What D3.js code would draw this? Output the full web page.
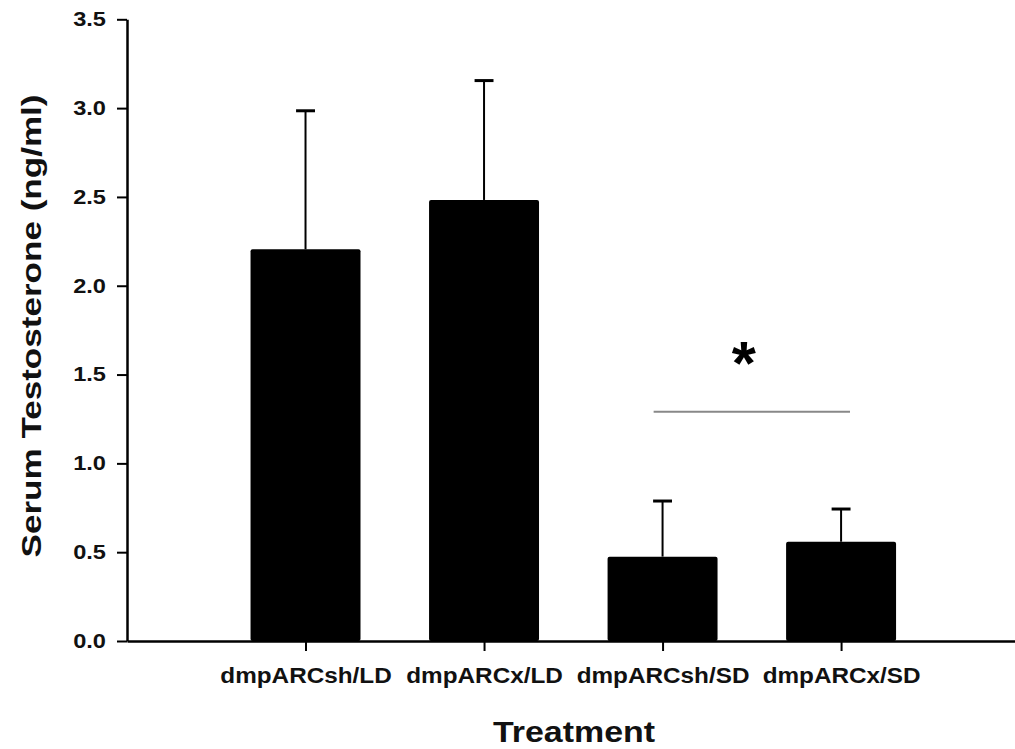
<!DOCTYPE html>
<html><head><meta charset="utf-8">
<script src="https://cdn.jsdelivr.net/npm/d3@7"></script>
<style>body{margin:0;background:#fff}svg{display:block}</style>
</head><body><svg id="c" width="1015" height="749"></svg>
<script>
// ---- data ----
const categories = ["dmpARCsh/LD", "dmpARCx/LD", "dmpARCsh/SD", "dmpARCx/SD"];
const positions = [1, 2, 3, 4];
const means = [2.205, 2.483, 0.475, 0.559];
const errors = [0.78, 0.672, 0.313, 0.184];
const yTicks = [0, 0.5, 1.0, 1.5, 2.0, 2.5, 3.0, 3.5];
const sigFrom = 2.95, sigTo = 4.05, sigLevel = 1.29;
const sigMark = "*", sigMarkX = 3.455, sigMarkY = 1.616;
const xTitle = "Treatment";
const yTitle = "Serum Testosterone (ng/ml)";

// ---- layout ----
const svg = d3.select("#c");
const FONT = "Arial, 'Liberation Sans', sans-serif";
const x = d3.scaleLinear().domain([0, 5]).range([127, 1019.6]);
const y = d3.scaleLinear().domain([0, 3.5]).range([641, 19.3]);
const barW = x(0.616) - x(0);
const capW = x(0.106) - x(0);

function stretch(sel, k) {
  sel.each(function () {
    const len = this.getComputedTextLength();
    d3.select(this).attr("textLength", len * k).attr("lengthAdjust", "spacingAndGlyphs");
  });
}

// bars
svg.append("g").selectAll("rect").data(positions).join("rect")
  .attr("x", (d) => x(d) - barW / 2)
  .attr("y", (d, i) => y(means[i]))
  .attr("width", barW)
  .attr("height", (d, i) => y(0) - y(means[i]))
  .attr("rx", 2)
  .attr("fill", "#000");

// error bars
const eb = svg.append("g").attr("stroke", "#000");
eb.selectAll("line.v").data(positions).join("line").attr("class", "v")
  .attr("x1", (d) => x(d)).attr("x2", (d) => x(d))
  .attr("y1", (d, i) => y(means[i])).attr("y2", (d, i) => y(means[i] + errors[i]))
  .attr("stroke-width", 2);
eb.selectAll("line.c").data(positions).join("line").attr("class", "c")
  .attr("x1", (d) => x(d) - capW / 2).attr("x2", (d) => x(d) + capW / 2)
  .attr("y1", (d, i) => y(means[i] + errors[i])).attr("y2", (d, i) => y(means[i] + errors[i]))
  .attr("stroke-width", 3);

// y axis
const ya = svg.append("g").attr("transform", `translate(${x(0)},0)`)
  .call(d3.axisLeft(y).tickValues(yTicks).tickFormat(d3.format(".1f")).tickSize(10).tickSizeOuter(0).tickPadding(11));
ya.select(".domain").attr("stroke-width", 2.5);
ya.selectAll(".tick line").attr("stroke-width", 2);
ya.selectAll(".tick text").attr("font-family", FONT).attr("font-weight", "bold").attr("font-size", 20).attr("fill", "#111");
stretch(ya.selectAll(".tick text"), 1.18);

// x axis
const xa = svg.append("g").attr("transform", `translate(0,${y(0)})`)
  .call(d3.axisBottom(x).tickValues(positions).tickFormat((d, i) => categories[i]).tickSize(10).tickSizeOuter(0).tickPadding(17));
xa.select(".domain").attr("stroke-width", 2.5);
xa.selectAll(".tick line").attr("stroke-width", 2);
xa.selectAll(".tick text").attr("font-family", FONT).attr("font-weight", "bold").attr("font-size", 21.5).attr("fill", "#111");
stretch(xa.selectAll(".tick text"), 1.13);

// significance line + mark
svg.append("line")
  .attr("x1", x(sigFrom)).attr("x2", x(sigTo))
  .attr("y1", y(sigLevel)).attr("y2", y(sigLevel))
  .attr("stroke", "#888").attr("stroke-width", 2);
svg.append("text").text(sigMark)
  .attr("x", x(sigMarkX)).attr("y", y(sigMarkY) + 30)
  .attr("text-anchor", "middle")
  .attr("font-family", FONT).attr("font-weight", "bold").attr("font-size", 62).attr("fill", "#000");

// titles
const xt = svg.append("text").text(xTitle)
  .attr("x", 574).attr("y", 742)
  .attr("text-anchor", "middle")
  .attr("font-family", FONT).attr("font-weight", "bold").attr("font-size", 29).attr("fill", "#111");
stretch(xt, 1.17);
const yt = svg.append("text").text(yTitle)
  .attr("transform", "translate(41,326) rotate(-90)")
  .attr("text-anchor", "middle")
  .attr("font-family", FONT).attr("font-weight", "bold").attr("font-size", 28.5).attr("fill", "#111");
stretch(yt, 1.23);
</script></body></html>
